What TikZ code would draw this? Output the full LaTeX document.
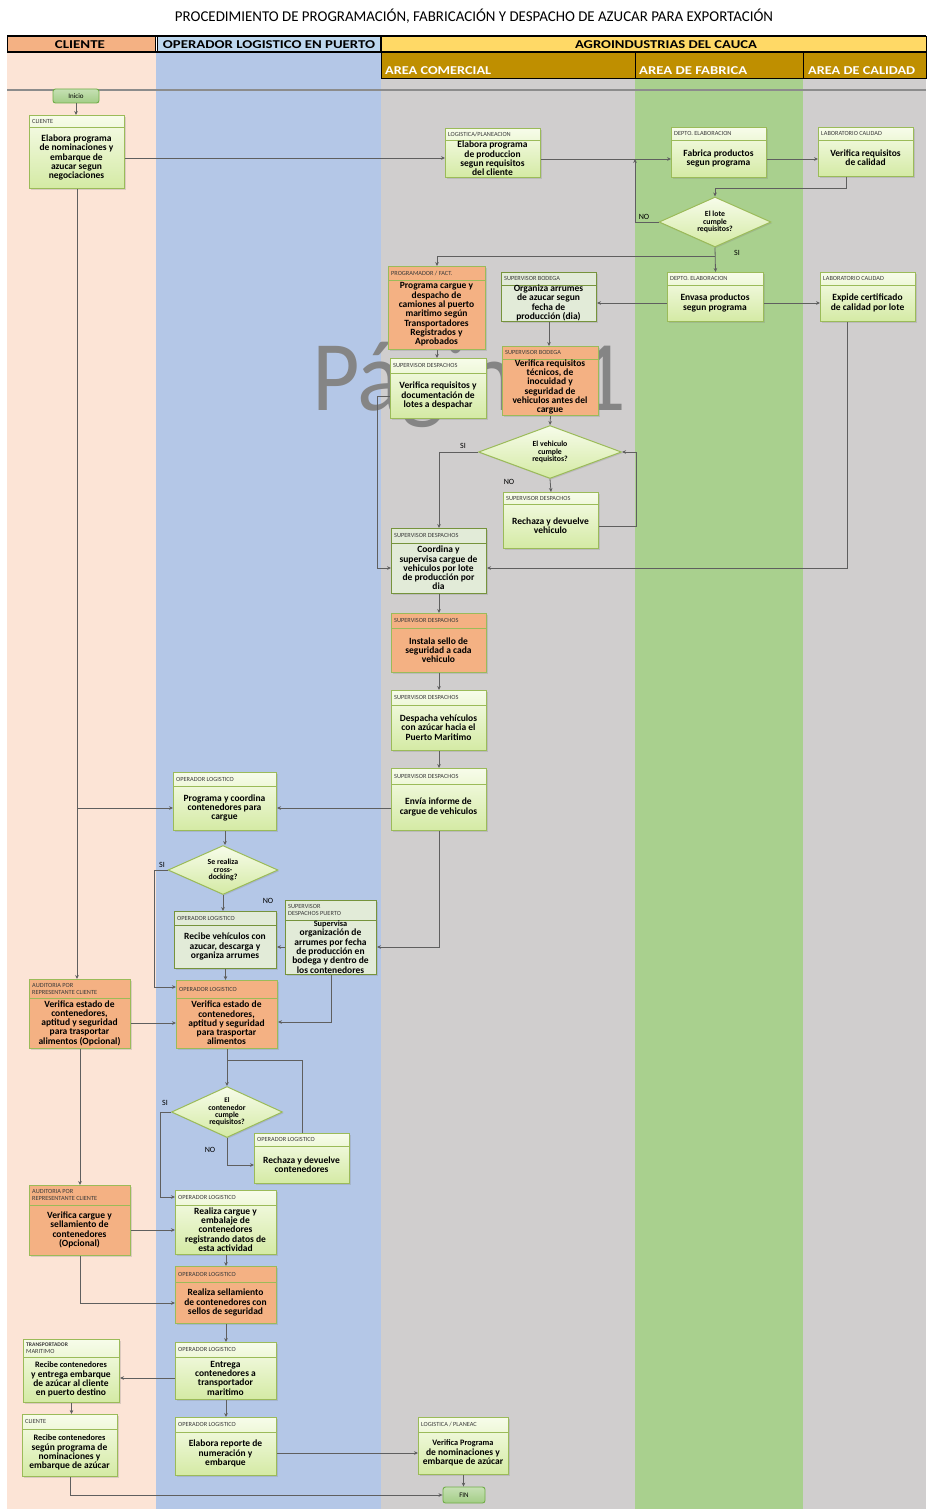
\documentclass[tikz,border=0pt]{standalone}
\usepackage{fontspec}
\setmainfont{Carlito}
\usepackage{graphicx}
\usetikzlibrary{shapes.geometric,arrows.meta,shadows}

\definecolor{clLane}{HTML}{FCE4D6}
\definecolor{opLane}{HTML}{B4C7E7}
\definecolor{grLane}{HTML}{D0CECE}
\definecolor{fbLane}{HTML}{A9D08E}
\definecolor{clHead}{HTML}{F4B183}
\definecolor{opHead}{HTML}{BDD7EE}
\definecolor{agHead}{HTML}{FFD966}
\definecolor{goldHead}{HTML}{BF8F00}
\definecolor{grnEdge}{HTML}{9BBB59}
\definecolor{grnTop}{HTML}{F7FCEA}
\definecolor{grnBot}{HTML}{D4EAA4}
\definecolor{orgFill}{HTML}{F4B183}
\definecolor{palFill}{HTML}{E2EBD8}
\definecolor{palEdge}{HTML}{76933C}
\definecolor{lineGray}{HTML}{5F5F5F}
\definecolor{termTop}{HTML}{C6E0B4}
\definecolor{termBot}{HTML}{A3CD86}
\definecolor{termEdge}{HTML}{70AD47}
\definecolor{wmGray}{HTML}{858585}
\definecolor{hdrGray}{HTML}{3A3A3A}

% horizontally condensed text
\newcommand\cond[2]{\resizebox{#1}{\height}{#2}}

% process box: name, x1, y1, x2, y of header rule, y2, style, role, activity
\newcommand\procbox[9]{%
  \pgfmathsetmacro\bw{#4-#2}\pgfmathsetmacro\bh{#6-#3}%
  \pgfmathsetmacro\bcx{(#2+#4)/2}\pgfmathsetmacro\bcy{(#5+#6)/2}%
  \pgfmathsetmacro\hcy{(#3+#5)/2}\pgfmathsetmacro\hx{#2+3}%
  \node[#7, minimum width=\bw pt, minimum height=\bh pt, anchor=north west] (#1) at (#2,#3) {};
  \draw[#7 rule] (#2,#5) -- (#4,#5);
  \node[hdr, anchor=west] (#1-h) at (\hx,\hcy) {#8};
  \node[body] (#1-t) at (\bcx,\bcy) {#9};
}

\tikzset{
  shade/.style={drop shadow={opacity=0.25, shadow xshift=1.2pt, shadow yshift=-1.2pt}},
  grn/.style={draw=grnEdge, line width=1pt, top color=grnTop, bottom color=grnBot, shade, inner sep=0},
  grn rule/.style={draw=grnEdge, line width=0.9pt},
  org/.style={draw=grnEdge, line width=1pt, fill=orgFill, shade, inner sep=0},
  org rule/.style={draw=grnEdge, line width=0.9pt},
  pal/.style={draw=palEdge, line width=1pt, fill=palFill, shade, inner sep=0},
  pal rule/.style={draw=palEdge, line width=0.9pt},
  hdr/.style={font=\fontsize{6.3}{7}\selectfont, text=hdrGray, inner sep=0, align=left},
  body/.style={font=\fontsize{9.5}{9.3}\selectfont\bfseries, inner sep=0, align=center},
  dia/.style={diamond, draw=grnEdge, line width=1pt, top color=grnTop, bottom color=grnBot,
    shade, inner sep=0, shape aspect=2.6, align=center, font=\fontsize{7.8}{7.4}\selectfont\bfseries},
  term/.style={draw=termEdge, line width=0.9pt, rounded corners=2.5pt, top color=termTop,
    bottom color=termBot, font=\fontsize{7}{7}\selectfont, inner sep=0},
  arr/.style={draw=lineGray, line width=0.8pt, -{Stealth[length=4pt,width=3.6pt]}},
  ln/.style={draw=lineGray, line width=0.8pt},
  lbl/.style={font=\fontsize{8}{8}\selectfont, inner sep=0},
  laneHead/.style={font=\fontsize{12}{12}\selectfont\bfseries, inner sep=0},
}

\begin{document}
\begin{tikzpicture}[x=1pt, y=-1pt]
\useasboundingbox (0,0) rectangle (926,1509);
\fill[white] (0,0) rectangle (926,1509);

% swim lanes
\fill[clLane] (7,52) rectangle (156,1509);
\fill[opLane] (156,52) rectangle (381,1509);
\fill[grLane] (381,78) rectangle (635,1509);
\fill[fbLane] (635,78) rectangle (803,1509);
\fill[grLane] (803,78) rectangle (926,1509);

% lane headers
\filldraw[fill=clHead, draw=black, line width=0.8pt] (7,36) rectangle (155,52);
\filldraw[fill=opHead, draw=black, line width=0.8pt] (157,36) rectangle (380,52);
\filldraw[fill=agHead, draw=black, line width=0.8pt] (381,36) rectangle (926,52);
\filldraw[fill=goldHead, draw=black, line width=0.8pt] (381,52) rectangle (635,78);
\filldraw[fill=goldHead, draw=black, line width=0.8pt] (635,52) rectangle (803,78);
\filldraw[fill=goldHead, draw=black, line width=0.8pt] (803,52) rectangle (926,78);
\draw[black, line width=1.6pt] (7,36) -- (926,36);
\draw[black, line width=1.2pt] (7,52) -- (926,52);
\draw[black!45, line width=1.2pt] (7,90) -- (926,90);

\node[font=\fontsize{15}{15}\selectfont] (title) at (474,16)
  {\cond{598pt}{PROCEDIMIENTO DE PROGRAMACIÓN, FABRICACIÓN Y DESPACHO DE AZUCAR PARA EXPORTACIÓN}};
\node[laneHead] (hCl) at (80,44.5) {\cond{50pt}{CLIENTE}};
\node[laneHead] (hOp) at (269,44.5) {\cond{212pt}{OPERADOR LOGISTICO EN PUERTO}};
\node[laneHead] (hAg) at (666,44.5) {\cond{182pt}{AGROINDUSTRIAS DEL CAUCA}};
\node[laneHead, text=white, anchor=base west] (hCo) at (385,75) {\cond{106pt}{AREA COMERCIAL}};
\node[laneHead, text=white, anchor=base west] (hFa) at (639,75) {\cond{108pt}{AREA DE FABRICA}};
\node[laneHead, text=white, anchor=base west] (hCa) at (808,75) {\cond{107pt}{AREA DE CALIDAD}};

% page watermark
\node[anchor=base west, text=wmGray, font=\fontsize{100}{100}\selectfont, inner sep=0] (wm) at (312,410)
  {\cond{314pt}{Página 1}};

% terminals
\node[term, minimum width=46pt, minimum height=14pt] (n0) at (76,96) {Inicio};
\node[term, minimum width=42pt, minimum height=16pt] (n30) at (464,1495) {FIN};

% activities
\procbox{n1}{29}{115}{124}{127}{188}{grn}{CLIENTE}{Elabora programa\\de nominaciones y\\embarque de\\azucar segun\\negociaciones}
\procbox{n2}{445}{128}{540}{140}{177}{grn}{LOGISTICA/PLANEACION}{Elabora programa\\de produccion\\segun requisitos\\del cliente}
\procbox{n3}{671}{127}{766}{140}{177}{grn}{DEPTO. ELABORACION}{Fabrica productos\\segun programa}
\procbox{n4}{818}{127}{913}{140}{176}{grn}{LABORATORIO CALIDAD}{Verifica requisitos\\de calidad}
\node[dia, minimum width=112pt, minimum height=50pt] (d1) at (715,222) {El lote\\cumple\\requisitos?};

\procbox{n5}{388}{266}{485}{280}{349}{org}{PROGRAMADOR / FACT.}{Programa cargue y\\despacho de\\camiones al puerto\\maritimo según\\Transportadores\\Registrados y\\Aprobados}
\procbox{n6}{501}{272}{596}{285}{321}{pal}{SUPERVISOR BODEGA}{Organiza arrumes\\de azucar segun\\fecha de\\producción (dia)}
\procbox{n7}{667}{272}{763}{285}{321}{grn}{DEPTO. ELABORACION}{Envasa productos\\segun programa}
\procbox{n8}{820}{272}{915}{285}{321}{grn}{LABORATORIO CALIDAD}{Expide certificado\\de calidad por lote}
\procbox{n9}{390}{358}{486}{373}{418}{grn}{SUPERVISOR DESPACHOS}{Verifica requisitos y\\documentación de\\lotes a despachar}
\procbox{n10}{502}{346}{598}{359}{415}{org}{SUPERVISOR BODEGA}{Verifica requisitos\\técnicos, de\\inocuidad y\\seguridad de\\vehiculos antes del\\cargue}
\node[dia, minimum width=143pt, minimum height=53pt] (d2) at (550,452) {El vehiculo\\cumple\\requisitos?};
\procbox{n11}{503}{492}{598}{504}{548}{grn}{SUPERVISOR DESPACHOS}{Rechaza y devuelve\\vehiculo}
\procbox{n12}{391}{528}{486}{543}{593}{pal}{SUPERVISOR DESPACHOS}{Coordina y\\supervisa cargue de\\vehiculos por lote\\de producción por\\dia}
\procbox{n13}{391}{613}{486}{628}{672}{org}{SUPERVISOR DESPACHOS}{Instala sello de\\seguridad a cada\\vehiculo}
\procbox{n14}{391}{690}{486}{705}{750}{grn}{SUPERVISOR DESPACHOS}{Despacha vehículos\\con azúcar hacia el\\Puerto Maritimo}
\procbox{n15}{391}{768}{486}{784}{830}{grn}{SUPERVISOR DESPACHOS}{Envía informe de\\cargue de vehiculos}

\procbox{n16}{173}{772}{276}{786}{830}{grn}{OPERADOR LOGISTICO}{Programa y coordina\\contenedores para\\cargue}
\node[dia, minimum width=110pt, minimum height=49pt] (d3) at (223,870) {Se realiza\\cross-\\docking?};
\procbox{n17}{174}{911}{276}{925}{968}{pal}{OPERADOR LOGISTICO}{Recibe vehículos con\\azucar, descarga y\\organiza arrumes}
\procbox{n18}{285}{900}{376}{920}{974}{pal}{SUPERVISOR\\DESPACHOS PUERTO}{\fontsize{8.3}{8.9}\selectfont Supervisa\\organización de\\arrumes por fecha\\de producción en\\bodega y dentro de\\los contenedores}
\procbox{n19}{29}{979}{130}{998}{1048}{org}{AUDITORIA POR\\REPRESENTANTE CLIENTE}{Verifica estado de\\contenedores,\\aptitud y seguridad\\para trasportar\\alimentos (Opcional)}
\procbox{n20}{176}{980}{277}{998}{1048}{org}{OPERADOR LOGISTICO}{Verifica estado de\\contenedores,\\aptitud y seguridad\\para trasportar\\alimentos}
\node[dia, minimum width=104pt, minimum height=51pt] (d4) at (227,1112) {\fontsize{7}{6.8}\selectfont El\\contenedor\\cumple\\requisitos?};
\procbox{n21}{254}{1133}{349}{1146}{1183}{grn}{OPERADOR LOGISTICO}{Rechaza y devuelve\\contenedores}
\procbox{n22}{29}{1185}{130}{1205}{1255}{org}{AUDITORIA POR\\REPRESENTANTE CLIENTE}{Verifica cargue y\\sellamiento de\\contenedores\\(Opcional)}
\procbox{n23}{175}{1190}{276}{1205}{1254}{grn}{OPERADOR LOGISTICO}{Realiza cargue y\\embalaje de\\contenedores\\registrando datos de\\esta actividad}
\procbox{n24}{175}{1266}{276}{1282}{1323}{org}{OPERADOR LOGISTICO}{Realiza sellamiento\\de contenedores con\\sellos de seguridad}
\procbox{n25}{175}{1342}{276}{1357}{1399}{grn}{OPERADOR LOGISTICO}{Entrega\\contenedores a\\transportador\\maritimo}
\procbox{n26}{23}{1339}{119}{1357}{1402}{grn}{\bfseries\fontsize{5.6}{6.6}\selectfont TRANSPORTADOR\\MARITIMO}{\fontsize{8.3}{9.2}\selectfont Recibe contenedores\\y entrega embarque\\de azúcar al cliente\\en puerto destino}
\procbox{n27}{22}{1414}{117}{1429}{1476}{grn}{CLIENTE}{\fontsize{8.3}{9.4}\selectfont Recibe contenedores\\según programa de\\nominaciones y\\embarque de azúcar}
\procbox{n28}{175}{1417}{276}{1432}{1475}{grn}{OPERADOR LOGISTICO}{Elabora reporte de\\numeración y\\embarque}
\procbox{n29}{418}{1417}{508}{1432}{1474}{grn}{LOGISTICA / PLANEAC}{\fontsize{8.3}{9.4}\selectfont Verifica Programa\\de nominaciones y\\embarque de azúcar}

% connectors: upper area
\coordinate (m1) at (635,159);
\coordinate (j1) at (715,256);
\draw[arr] (n0.south) -- (n0.south |- n1.north);
\draw[arr] (n1.east |- 0,158) -- (n2.west |- 0,158);
\draw[arr] (n2.east |- 0,159) -- (n3.west |- 0,159);
\draw[arr] (n3.east |- 0,159) -- (n4.west |- 0,159);
\draw[arr] (846,0 |- n4.south) |- (715,188) -- (d1.north);
\draw[arr] (d1.west) -| (m1);
\draw[arr] (d1.south) -- (n7.north);
\draw[arr] (j1) -| (n5.north);
\draw[arr] (n7.west |- 0,303) -- (n6.east |- 0,303);
\draw[arr] (n7.east |- 0,303) -- (n8.west |- 0,303);
\draw[arr] (847,0 |- n8.south) |- (n12.east |- 0,568);
\draw[arr] (n5.south) -- (n5.south |- n9.north);
\draw[arr] (n9.west |- 0,396) -- (377,396) -- (377,568) -- (n12.west |- 0,568);
\draw[arr] (n6.south) -- (n6.south |- n10.north);
\draw[arr] (n10.south) -- (d2.north);
\draw[arr] (d2.west) -| (n12.north);
\draw[arr] (d2.south) -- (n11.north);
\draw[arr] (n11.east |- 0,526) -| (636,452) -- (d2.east);
\draw[arr] (n12.south) -- (n13.north);
\draw[arr] (n13.south) -- (n14.north);
\draw[arr] (n14.south) -- (n15.north);
\draw[arr] (n15.west |- 0,808) -- (n16.east |- 0,808);
\draw[arr] (n15.south) |- (n18.east |- 0,947);

% connectors: port operations
\draw[arr] (n1.south) -- (n1.south |- n19.north);
\draw[arr] (n1.south |- 0,808) -- (n16.west |- 0,808);
\draw[arr] (n16.south) -- (n16.south |- d3.north);
\draw[arr] (d3.west) -- (154,870) -- (154,987) -- (n20.west |- 0,987);
\draw[arr] (d3.south) -- (d3.south |- n17.north);
\draw[arr] (n17.south) -- (n17.south |- n20.north);
\draw[arr] (n18.west |- 0,947) -- (n17.east |- 0,947);
\draw[arr] (n18.south) |- (n20.east |- 0,1022);
\draw[arr] (n19.east |- 0,1023) -- (n20.west |- 0,1023);
\draw[arr] (n20.south) -- (n20.south |- d4.north);
\draw[ln] (n21.north) |- (n20.south |- 0,1060);
\draw[arr] (d4.west) -- (160,1112) -- (160,1197) -- (n23.west |- 0,1197);
\draw[arr] (d4.south) |- (n21.west |- 0,1165);
\draw[arr] (n19.south) -- (n22.north);
\draw[arr] (n22.east |- 0,1230) -- (n23.west |- 0,1230);
\draw[arr] (n22.south) |- (n24.west |- 0,1303);
\draw[arr] (n23.south) -- (n24.north);
\draw[arr] (n24.south) -- (n25.north);
\draw[arr] (n25.west |- 0,1378) -- (n26.east |- 0,1378);
\draw[arr] (n25.south) -- (n28.north);
\draw[arr] (n26.south) -- (n26.south |- n27.north);
\draw[arr] (n27.south) |- (n30.west);
\draw[arr] (n28.east |- 0,1453) -- (n29.west |- 0,1453);
\draw[arr] (n29.south) -- (n29.south |- n30.north);

% branch labels
\node[lbl] (l1) at (644,217) {NO};
\node[lbl] (l2) at (737,253) {SI};
\node[lbl] (l3) at (463,446) {SI};
\node[lbl] (l4) at (509,482) {NO};
\node[lbl] (l5) at (162,865) {SI};
\node[lbl] (l6) at (268,901) {NO};
\node[lbl] (l7) at (165,1103) {SI};
\node[lbl] (l8) at (210,1150) {NO};
\end{tikzpicture}
\end{document}
